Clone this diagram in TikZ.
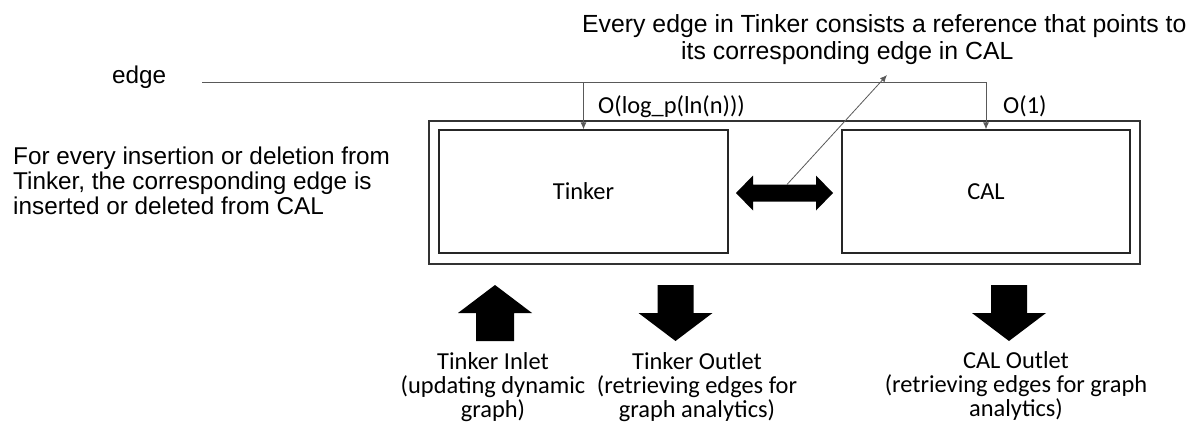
\documentclass[tikz,border=0pt]{standalone}
\usepackage{fontspec}
\setmainfont{Liberation Sans}
\newfontfamily\calfont{Carlito}
\usetikzlibrary{arrows.meta}

\tikzset{
  storebox/.style={draw=black!85, line width=1.3pt, fill=white, inner sep=0pt,
    font=\calfont\fontsize{24.4}{24}\selectfont},
  frame/.style={draw=black!80, line width=1.2pt},
  conn/.style={draw=black!65, line width=0.8pt},
  tip/.style={-{Latex[length=7pt,width=6pt]}},
  note/.style={inner sep=0pt, font=\fontsize{24.3}{25}\selectfont},
  calnote/.style={inner sep=0pt, align=center, font=\calfont\fontsize{24.4}{24}\selectfont},
  cplx/.style={inner sep=0pt, font=\calfont\fontsize{24.4}{24}\selectfont},
  blockfill/.style={fill=black},
  pics/uparrow/.style={code={
    \fill[blockfill] (-19,28) -- (-19,0) -- (-37,0) -- (0,-28) -- (37,0) -- (19,0) -- (19,28) -- cycle;}},
  pics/downarrow/.style={code={
    \fill[blockfill] (-18,-28) -- (18,-28) -- (18,0) -- (37,0) -- (0,28) -- (-37,0) -- (-18,0) -- cycle;}},
  pics/bothways/.style={code={
    \fill[blockfill] (-48.5,0) -- (-31.5,-17.5) -- (-31.5,-8.5) -- (31.5,-8.5) -- (31.5,-17.5)
      -- (48.5,0) -- (31.5,17.5) -- (31.5,8.5) -- (-31.5,8.5) -- (-31.5,17.5) -- cycle;
    \coordinate (-shafttop) at (2.5,-8.5);}},
}

\begin{document}
\begin{tikzpicture}[x=1pt, y=-1pt]
\useasboundingbox (0,0) rectangle (1187,431);

% enclosing frame and the two stores
\draw[frame] (429,121) rectangle (1140,264);
\node[storebox, minimum width=289pt, minimum height=123pt] (tinker) at (583.5,191.5) {Tinker};
\node[storebox, minimum width=288pt, minimum height=123pt] (cal) at (986,191.5) {CAL};

% incoming edge, split into both stores
\node[note, anchor=base west] (edgelbl) at (112,83) {edge};
\coordinate (e0) at (202,82);
\draw[conn, tip] (e0) -| (cal.north);
\draw[conn, tip] (tinker.north |- e0) -- (tinker.north);
\node[cplx, anchor=base west] (cost1) at (598,113) {O(log\_p(ln(n)))};
\node[cplx, anchor=base west] (cost2) at (1003,113) {O(1)};

% link between the stores
\pic (link) at (784.5,193) {bothways};
\node[note, anchor=base west, font=\fontsize{24.8}{25}\selectfont] (refA) at (582,32)
  {Every edge in Tinker consists a reference that points to};
\node[note, anchor=base west, font=\fontsize{24.8}{25}\selectfont] (refB) at (681,59)
  {its corresponding edge in CAL};
\coordinate (refpt) at (887,75);
\draw[conn, tip] (link-shafttop) -- (refpt);

% side note (anchored on the baseline of its last line)
\node[note, anchor=base west, align=left] (sync) at (13,214)
  {For every insertion or deletion from\\Tinker, the corresponding edge is\\inserted or deleted from CAL};

% inlets and outlets
\pic (inlet) at (495,313) {uparrow};
\pic (outlet) at (675.5,313) {downarrow};
\pic (caloutlet) at (1009,313) {downarrow};
\node[calnote, anchor=base] (inletlbl) at (493,417) {Tinker Inlet\\(updating dynamic\\graph)};
\node[calnote, anchor=base] (outletlbl) at (697,417) {Tinker Outlet\\(retrieving edges for\\graph analytics)};
\node[calnote, anchor=base] (caloutletlbl) at (1016,416) {CAL Outlet\\(retrieving edges for graph\\analytics)};
\end{tikzpicture}
\end{document}
